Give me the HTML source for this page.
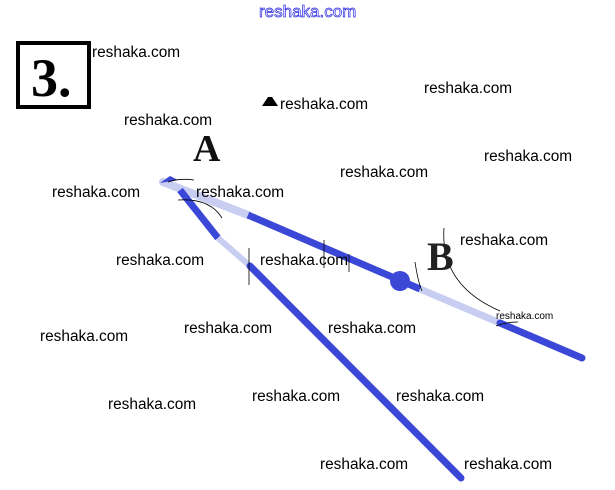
<!DOCTYPE html>
<html><head><meta charset="utf-8"><style>
html,body{margin:0;padding:0;background:#fff;}
svg{display:block}
.w{font-family:"Liberation Sans",sans-serif;font-size:15.4px;fill:#000;}
</style></head><body>
<svg width="615" height="490" viewBox="0 0 615 490" xmlns="http://www.w3.org/2000/svg">
<rect width="615" height="490" fill="#fff"/>
<text x="259" y="17" font-family="Liberation Sans,sans-serif" font-size="17" fill="#fff" stroke="#2a2ae0" stroke-width="0.7">reshaka.com</text>
<rect x="18" y="43" width="71" height="64" fill="none" stroke="#000" stroke-width="4"/>
<text x="31" y="96" font-family="Liberation Serif,serif" font-weight="bold" font-size="54">3.</text>
<line x1="163" y1="182" x2="248" y2="215" stroke="#c8cdf2" stroke-width="8" stroke-linecap="round"/>
<line x1="248" y1="215" x2="420" y2="289" stroke="#3b47d6" stroke-width="7"/>
<circle cx="400" cy="281" r="10" fill="#3b47d6"/>
<line x1="420" y1="289" x2="500" y2="323" stroke="#c8cdf2" stroke-width="7"/>
<line x1="500" y1="323" x2="582" y2="358" stroke="#3b47d6" stroke-width="7" stroke-linecap="round"/>
<path d="M160 183 L170 176 L178 180 Z" fill="#3b47d6"/>
<line x1="180" y1="190" x2="218" y2="238" stroke="#3b47d6" stroke-width="7"/>
<line x1="218" y1="238" x2="250" y2="266" stroke="#c8cdf2" stroke-width="6"/>
<line x1="250" y1="266" x2="461" y2="478" stroke="#3b47d6" stroke-width="7" stroke-linecap="round"/>
<path d="M178 200 Q210 198 222 218" fill="none" stroke="#000" stroke-width="0.8"/>
<path d="M168 182 Q180 178 194 180" fill="none" stroke="#000" stroke-width="0.8"/>
<line x1="249" y1="248" x2="249" y2="285" stroke="#000" stroke-width="0.8"/>
<line x1="324" y1="240" x2="324" y2="268" stroke="#000" stroke-width="0.8"/>
<line x1="349" y1="254" x2="349" y2="272" stroke="#000" stroke-width="0.8"/>
<path d="M415 262 Q418 282 422 291" fill="none" stroke="#000" stroke-width="0.8"/>
<path d="M444 228 Q440 285 500 311" fill="none" stroke="#000" stroke-width="0.8"/>
<path d="M496 326 Q506 322 518 322" fill="none" stroke="#000" stroke-width="0.8"/>
<text x="193" y="161" font-family="Liberation Serif,serif" font-weight="bold" font-size="38" fill="#111">A</text>
<text x="427" y="270" font-family="Liberation Serif,serif" font-weight="bold" font-size="40" fill="#222">B</text>
<path d="M262 106 L268 97 L272 97 L278 106 Z" fill="#000"/>
<g class="w">
<text x="92" y="57">reshaka.com</text>
<text x="280" y="109">reshaka.com</text>
<text x="424" y="93">reshaka.com</text>
<text x="124" y="125">reshaka.com</text>
<text x="484" y="161">reshaka.com</text>
<text x="340" y="177">reshaka.com</text>
<text x="52" y="197">reshaka.com</text>
<text x="196" y="197">reshaka.com</text>
<text x="460" y="245">reshaka.com</text>
<text x="116" y="265">reshaka.com</text>
<text x="260" y="265">reshaka.com</text>
<text x="40" y="341">reshaka.com</text>
<text x="184" y="333">reshaka.com</text>
<text x="328" y="333">reshaka.com</text>
<text x="108" y="409">reshaka.com</text>
<text x="252" y="401">reshaka.com</text>
<text x="396" y="401">reshaka.com</text>
<text x="320" y="469">reshaka.com</text>
<text x="464" y="469">reshaka.com</text>
<text x="496" y="319" font-size="10">reshaka.com</text>
</g>
</svg>
</body></html>
